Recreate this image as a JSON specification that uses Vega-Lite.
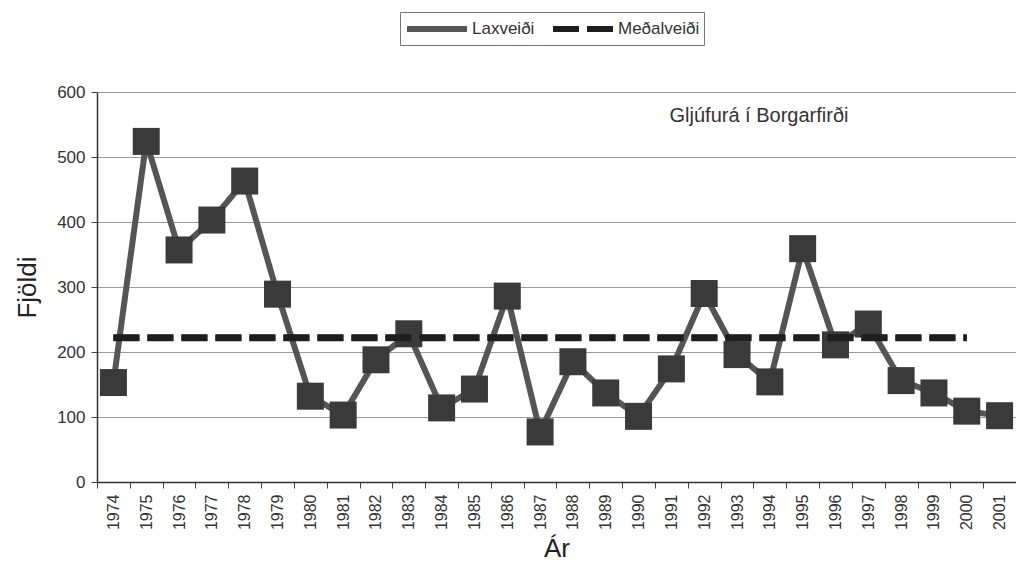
{
  "$schema": "https://vega.github.io/schema/vega-lite/v6.json",
  "autosize": "none",
  "width": 919,
  "height": 390,
  "padding": {"left": 97, "top": 92, "right": 0, "bottom": 87},
  "background": "white",
  "config": {
    "font": "Liberation Sans",
    "view": {"stroke": null}
  },
  "datasets": {
    "main": [
      {"year": "1974", "value": 153, "series": "Laxveiði"},
      {"year": "1975", "value": 524, "series": "Laxveiði"},
      {"year": "1976", "value": 357, "series": "Laxveiði"},
      {"year": "1977", "value": 403, "series": "Laxveiði"},
      {"year": "1978", "value": 463, "series": "Laxveiði"},
      {"year": "1979", "value": 289, "series": "Laxveiði"},
      {"year": "1980", "value": 132, "series": "Laxveiði"},
      {"year": "1981", "value": 103, "series": "Laxveiði"},
      {"year": "1982", "value": 188, "series": "Laxveiði"},
      {"year": "1983", "value": 228, "series": "Laxveiði"},
      {"year": "1984", "value": 114, "series": "Laxveiði"},
      {"year": "1985", "value": 143, "series": "Laxveiði"},
      {"year": "1986", "value": 286, "series": "Laxveiði"},
      {"year": "1987", "value": 77, "series": "Laxveiði"},
      {"year": "1988", "value": 185, "series": "Laxveiði"},
      {"year": "1989", "value": 137, "series": "Laxveiði"},
      {"year": "1990", "value": 101, "series": "Laxveiði"},
      {"year": "1991", "value": 174, "series": "Laxveiði"},
      {"year": "1992", "value": 290, "series": "Laxveiði"},
      {"year": "1993", "value": 196, "series": "Laxveiði"},
      {"year": "1994", "value": 154, "series": "Laxveiði"},
      {"year": "1995", "value": 359, "series": "Laxveiði"},
      {"year": "1996", "value": 211, "series": "Laxveiði"},
      {"year": "1997", "value": 243, "series": "Laxveiði"},
      {"year": "1998", "value": 156, "series": "Laxveiði"},
      {"year": "1999", "value": 137, "series": "Laxveiði"},
      {"year": "2000", "value": 109, "series": "Laxveiði"},
      {"year": "2001", "value": 102, "series": "Laxveiði"},
      {"year": "1974", "value": 222, "series": "Meðalveiði"},
      {"year": "1975", "value": 222, "series": "Meðalveiði"},
      {"year": "1976", "value": 222, "series": "Meðalveiði"},
      {"year": "1977", "value": 222, "series": "Meðalveiði"},
      {"year": "1978", "value": 222, "series": "Meðalveiði"},
      {"year": "1979", "value": 222, "series": "Meðalveiði"},
      {"year": "1980", "value": 222, "series": "Meðalveiði"},
      {"year": "1981", "value": 222, "series": "Meðalveiði"},
      {"year": "1982", "value": 222, "series": "Meðalveiði"},
      {"year": "1983", "value": 222, "series": "Meðalveiði"},
      {"year": "1984", "value": 222, "series": "Meðalveiði"},
      {"year": "1985", "value": 222, "series": "Meðalveiði"},
      {"year": "1986", "value": 222, "series": "Meðalveiði"},
      {"year": "1987", "value": 222, "series": "Meðalveiði"},
      {"year": "1988", "value": 222, "series": "Meðalveiði"},
      {"year": "1989", "value": 222, "series": "Meðalveiði"},
      {"year": "1990", "value": 222, "series": "Meðalveiði"},
      {"year": "1991", "value": 222, "series": "Meðalveiði"},
      {"year": "1992", "value": 222, "series": "Meðalveiði"},
      {"year": "1993", "value": 222, "series": "Meðalveiði"},
      {"year": "1994", "value": 222, "series": "Meðalveiði"},
      {"year": "1995", "value": 222, "series": "Meðalveiði"},
      {"year": "1996", "value": 222, "series": "Meðalveiði"},
      {"year": "1997", "value": 222, "series": "Meðalveiði"},
      {"year": "1998", "value": 222, "series": "Meðalveiði"},
      {"year": "1999", "value": 222, "series": "Meðalveiði"},
      {"year": "2000", "value": 222, "series": "Meðalveiði"}
    ],
    "note": [
      {"year": "1993", "value": 563, "label": "Gljúfurá í Borgarfirði"}
    ]
  },
  "encoding": {
    "x": {
      "field": "year",
      "type": "ordinal",
      "scale": {"type": "band", "paddingInner": 0, "paddingOuter": 0},
      "axis": {
        "title": "Ár",
        "titleFontSize": 26,
        "titleFontWeight": "normal",
        "titleColor": "#222",
        "titlePadding": 6,
        "labelAngle": -90,
        "labelAlign": "right",
        "labelBaseline": "middle",
        "labelFontSize": 16,
        "labelColor": "#333",
        "labelPadding": 6,
        "tickBand": "extent",
        "tickSize": 6,
        "tickColor": "#444",
        "domainColor": "#333",
        "domainWidth": 1.5,
        "grid": false
      }
    },
    "y": {
      "field": "value",
      "type": "quantitative",
      "scale": {"domain": [0, 600], "nice": false},
      "axis": {
        "title": "Fjöldi",
        "titleFontSize": 26,
        "titleFontWeight": "normal",
        "titleColor": "#222",
        "titlePadding": 16,
        "values": [0, 100, 200, 300, 400, 500, 600],
        "labelFontSize": 17,
        "labelColor": "#333",
        "labelPadding": 6,
        "tickSize": 6,
        "tickColor": "#444",
        "domainColor": "#333",
        "domainWidth": 1.5,
        "grid": true,
        "gridColor": "#9a9a9a",
        "gridWidth": 1
      }
    }
  },
  "layer": [
    {
      "data": {"name": "main"},
      "mark": {"type": "line", "strokeWidth": 6},
      "encoding": {
        "color": {
          "field": "series",
          "type": "nominal",
          "scale": {"domain": ["Laxveiði", "Meðalveiði"], "range": ["#555555", "#1e1e1e"]},
          "legend": {
            "title": null,
            "orient": "none",
            "legendX": 303,
            "legendY": -80,
            "direction": "horizontal",
            "strokeColor": "#777",
            "fillColor": "white",
            "padding": 4,
            "labelFontSize": 17,
            "labelColor": "#333",
            "labelOffset": 42,
            "symbolType": "M-1,0H5",
            "symbolSize": 400,
            "symbolStrokeWidth": 6,
            "columnPadding": 6
          }
        },
        "strokeDash": {
          "field": "series",
          "type": "nominal",
          "scale": {"domain": ["Laxveiði", "Meðalveiði"], "range": [[1, 0], [26, 8]]},
          "legend": null
        }
      }
    },
    {
      "data": {"name": "main"},
      "transform": [{"filter": "datum.series === 'Laxveiði'"}],
      "mark": {"type": "square", "size": 729, "filled": true, "color": "#3a3a3a", "opacity": 1}
    },
    {
      "data": {"name": "main"},
      "transform": [{"filter": "datum.series === 'Meðalveiði'"}],
      "mark": {"type": "line", "strokeWidth": 7, "color": "#1e1e1e", "strokeDash": [26, 8]}
    },
    {
      "data": {"name": "note"},
      "mark": {"type": "text", "fontSize": 20, "color": "#333", "align": "center", "dx": 22},
      "encoding": {
        "text": {"field": "label", "type": "nominal"}
      }
    }
  ]
}
